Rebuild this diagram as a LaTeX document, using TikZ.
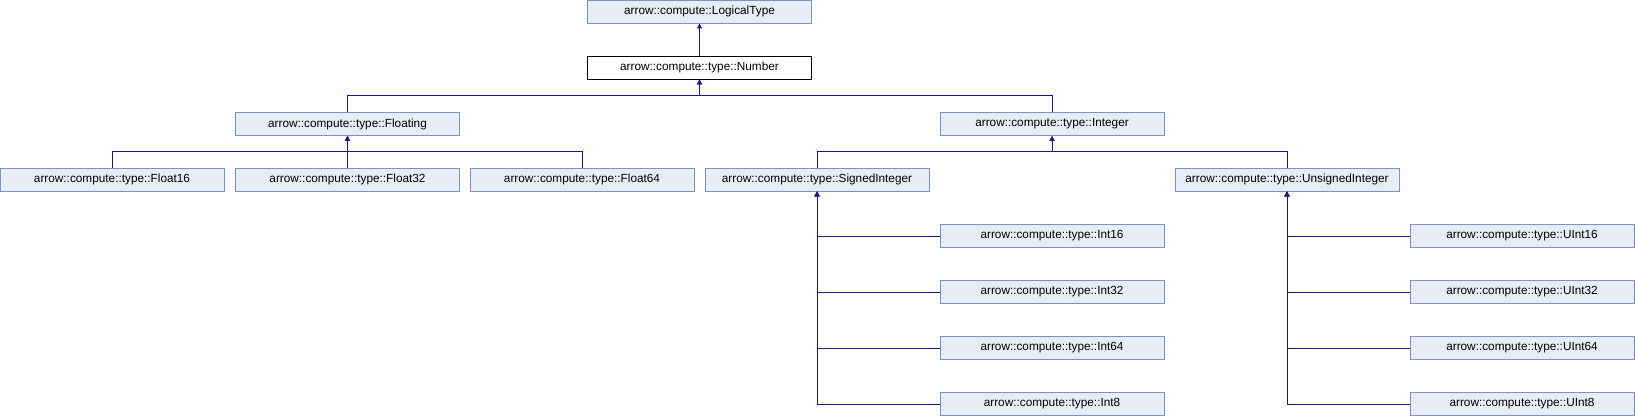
\documentclass[tikz,border=0pt]{standalone}
\usepackage{fontspec}
\setmainfont{Liberation Sans}
\usepackage{xcolor}
\definecolor{dxfill}{RGB}{232, 236, 245}
\definecolor{dxline}{RGB}{122, 146, 201}
\definecolor{dxedge}{RGB}{25, 25, 130}
\usetikzlibrary{positioning,arrows.meta}

\begin{document}
\begin{tikzpicture}[x=1pt, y=-1pt,
    cls/.style={draw=dxline, fill=dxfill, line width=0.9pt, minimum width=224pt, minimum height=23pt,
        inner sep=0pt, font=\fontsize{11.8}{14}\selectfont},
    cur/.style={cls, draw=black, fill=white},
    edge/.style={draw=dxedge, line width=1pt, -{Triangle[length=5pt,width=5pt]}}]
    \useasboundingbox (0, 0) rectangle (1635, 416);

    % Top of the hierarchy
    \node[cls] (logical) at (699.5, 11.5) {arrow::compute::LogicalType};
    \node[cur] (number) at (699.5, 67.5) {arrow::compute::type::Number};
    \draw[edge] (number.north) -- (logical.south);

    % Second level
    \node[cls] (floating) at (347.5, 124) {arrow::compute::type::Floating};
    \node[cls] (integer) at (1052, 124) {arrow::compute::type::Integer};
    \draw[edge] (floating.north) -- ++(0, -17) -| (number.south);
    \draw[edge] (integer.north) -- ++(0, -17) -| (number.south);

    % Floating point types
    \foreach \name/\x in {Float16/112, Float32/347.5, Float64/582} {
        \node[cls] (\name) at (\x, 179.5) {arrow::compute::type::\name};
        \draw[edge] (\name.north) -- ++(0, -16) -| (floating.south);
    }

    % Integer types
    \node[cls] (signedint) at (817, 179.5) {arrow::compute::type::SignedInteger};
    \node[cls] (unsignedint) at (1287, 179.5) {arrow::compute::type::UnsignedInteger};
    \draw[edge] (signedint.north) -- ++(0, -16) -| (integer.south);
    \draw[edge] (unsignedint.north) -- ++(0, -16) -| (integer.south);

    \foreach \bits/\y in {16/236, 32/292, 64/348, 8/404} {
        \node[cls] (Int\bits) at (1052, \y) {arrow::compute::type::Int\bits};
        \node[cls] (UInt\bits) at (1522, \y) {arrow::compute::type::UInt\bits};
        \draw[edge] (Int\bits.west) -| (signedint.south);
        \draw[edge] (UInt\bits.west) -| (unsignedint.south);
    }
\end{tikzpicture}
\end{document}
